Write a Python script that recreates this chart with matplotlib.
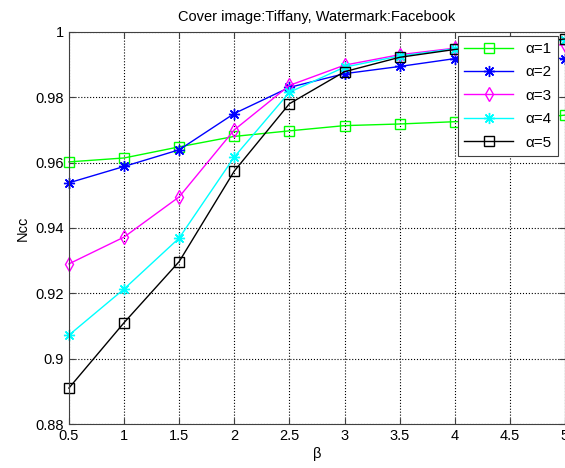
import matplotlib
matplotlib.use("Agg")
import matplotlib.pyplot as plt

beta = [0.5, 1, 1.5, 2, 2.5, 3, 3.5, 4, 4.5, 5]

ncc_a1 = [0.9602, 0.9614, 0.9648, 0.9680, 0.9697, 0.9713, 0.9718, 0.9725, 0.9730, 0.9745]
ncc_a2 = [0.9538, 0.9588, 0.9639, 0.9750, 0.9830, 0.9872, 0.9894, 0.9918, 0.9925, 0.9918]
ncc_a3 = [0.9290, 0.9372, 0.9495, 0.9700, 0.9836, 0.9898, 0.9930, 0.9950, 0.9960, 0.9960]
ncc_a4 = [0.9072, 0.9213, 0.9369, 0.9617, 0.9815, 0.9892, 0.9926, 0.9948, 0.9962, 0.9975]
ncc_a5 = [0.8910, 0.9110, 0.9297, 0.9574, 0.9780, 0.9878, 0.9922, 0.9946, 0.9962, 0.9978]

star = (8, 2, 0)  # thin asterisk like matlab '*'
series = [
    (ncc_a1, '#00ff00', 's', 'α=1'),
    (ncc_a2, '#0000ff', star, 'α=2'),
    (ncc_a3, '#ff00ff', 'd', 'α=3'),
    (ncc_a4, '#00ffff', star, 'α=4'),
    (ncc_a5, '#000000', 's', 'α=5'),
]

plt.rcParams['font.family'] = ['Liberation Sans', 'DejaVu Sans']
plt.rcParams['font.size'] = 10.5

fig = plt.figure(figsize=(5.65, 4.68), dpi=100)
ax = fig.add_axes([0.122, 0.094, 0.878, 0.838])

for vals, col, mk, lab in series:
    is_star = mk == star
    ax.plot(beta, vals, color=col, marker=mk, markersize=8 if is_star else 7,
            markerfacecolor='none', markeredgewidth=1, linewidth=1,
            label=lab, clip_on=False)

ax.set_xlim(0.5, 5)
ax.set_ylim(0.88, 1.0)
ax.set_xticks(beta)
ax.set_xticklabels(['0.5', '1', '1.5', '2', '2.5', '3', '3.5', '4', '4.5', '5'])
ax.set_yticks([0.88, 0.9, 0.92, 0.94, 0.96, 0.98, 1.0])
ax.set_yticklabels(['0.88', '0.9', '0.92', '0.94', '0.96', '0.98', '1'])
ax.tick_params(direction='in', top=True, right=True, length=4, color='#404040')
ax.grid(True, linestyle=':', color='black', linewidth=0.8)
for s in ax.spines.values():
    s.set_color('#404040')

ax.set_xlabel('β', labelpad=3)
ax.set_ylabel('Ncc')
ax.set_title('Cover image:Tiffany, Watermark:Facebook', fontsize=10.5, pad=8)

leg = ax.legend(loc='upper right', fancybox=False, edgecolor='#404040',
                framealpha=1, bbox_to_anchor=(0.985, 0.99), borderaxespad=0,
                handlelength=3.2, labelspacing=0.62, fontsize=11)
leg.get_frame().set_linewidth(0.8)

fig.savefig('out.png', dpi=100)
